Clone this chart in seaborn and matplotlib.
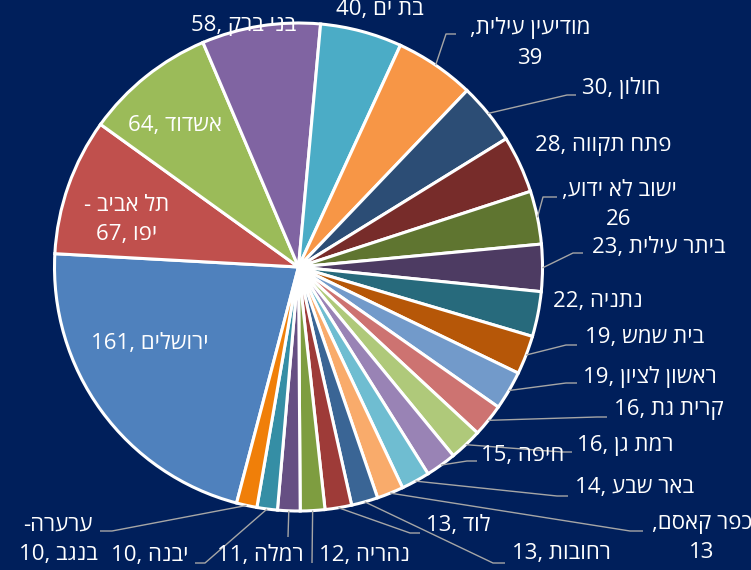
import numpy as np
import pandas as pd
import seaborn as sns
import matplotlib.pyplot as plt

# data (logical Hebrew order, sorted descending as in the source sheet)
cities = ['ירושלים', 'תל אביב - יפו', 'אשדוד', 'בני ברק', 'בת ים', 'מודיעין עילית',
          'חולון', 'פתח תקווה', 'ישוב לא ידוע', 'ביתר עילית', 'נתניה', 'בית שמש',
          'ראשון לציון', 'קרית גת', 'רמת גן', 'חיפה', 'באר שבע', 'כפר קאסם',
          'רחובות', 'לוד', 'נהריה', 'רמלה', 'יבנה', 'ערערה-בנגב']
counts = [161, 67, 64, 58, 40, 39, 30, 28, 26, 23, 22, 19,
          19, 16, 16, 15, 14, 13, 13, 13, 12, 11, 10, 10]
colors = ['#4F81BD', '#C0504D', '#9BBB59', '#8064A2', '#4BACC6', '#F79646',
          '#2C4D75', '#772C2A', '#5F7530', '#4D3B62', '#276A7C', '#B65708',
          '#729ACA', '#CD7371', '#AFC97A', '#9983B5', '#6FBDD1', '#F9AB6B',
          '#3A6595', '#9E3B38', '#7E9D40', '#664F83', '#358EA5', '#F07F09']

df = pd.DataFrame({'city': cities, 'n': counts, 'color': colors})

W, H = 751, 570
BG = '#001F5B'
CX, CY, R = 298.5, 267, 244     # pie centre / radius in pixels (y down)
START = 194.7                   # clockwise from 12 o'clock, where the first slice starts

# label layout: (text x, text y, mode, leader points) in pixels, y measured from top
# mode: 'one' -> "n, name", 'name2' -> "name,\nn", 'split' -> split name at hyphen
layout = [
    (150, 343, 'one', None),
    (127, 220, 'split', None),
    (175, 125, 'one', None),
    (244, 25, 'one', None),
    (380, 10, 'one', None),
    (530, 43, 'name2', [(446, 34), (456, 34)]),
    (621, 88, 'one', [(567, 95), (576, 95)]),
    (603, 145, 'one', None),
    (619, 205, 'name2', [(543, 197), (557, 197)]),
    (659, 247, 'one', [(573, 253), (583, 253)]),
    (598, 302, 'one', None),
    (645, 337, 'one', [(566, 345), (577, 345)]),
    (650, 377, 'one', [(566, 383), (577, 383)]),
    (669, 410, 'one', [(597, 417), (607, 417)]),
    (625, 445, 'one', [(562, 452), (572, 452)]),
    (523, 455, 'one', [(467, 461), (477, 461)]),
    (635, 487, 'one', [(557, 496), (568, 496)]),
    (702, 538, 'name2', [(630, 531), (643, 531)]),
    (561, 553, 'one', [(493, 563), (505, 563)]),
    (458, 525, 'one', [(410, 533), (420, 533)]),
    (364, 555, 'one', [(312, 563)]),
    (260, 555, 'one', [(288, 537)]),
    (150, 555, 'one', [(205, 563), (195, 563)]),
    (58, 540, 'split', [(112, 531), (100, 531)]),
]


def rev(s):
    # matplotlib has no bidi support, so put Hebrew into visual order by hand
    return s[::-1]


def make_label(name, n, mode):
    if mode == 'one':
        return f"{n}, {rev(name)}"
    if mode == 'name2':
        return f",{rev(name)}\n{n}"
    i = name.index('-')
    part1, part2 = name[:i + 1].strip(), name[i + 1:].strip()
    return f"{rev(part1)}\n{n}, {rev(part2)}"


sns.set_theme(style='white')
plt.rcParams['font.family'] = ['Open Sans', 'Liberation Sans', 'DejaVu Sans']

fig = plt.figure(figsize=(W / 100, H / 100), dpi=100, facecolor=BG)
ax = fig.add_axes([0, 0, 1, 1])
ax.set_facecolor(BG)

wedges, _ = ax.pie(df['n'], colors=df['color'], startangle=90 - START, counterclock=False,
                   center=(CX, H - CY), radius=R,
                   wedgeprops=dict(edgecolor='white', linewidth=2.2))
ax.set_xlim(0, W)
ax.set_ylim(0, H)
ax.set_aspect('equal')
ax.axis('off')

for w, (name, n), (tx, ty, mode, pts) in zip(wedges, zip(df['city'], df['n']), layout):
    ax.text(tx, H - ty, make_label(name, n, mode), color='white', fontsize=16,
            ha='center', va='center', multialignment='center', linespacing=1.55, zorder=5)
    if pts:
        mid = np.deg2rad((w.theta1 + w.theta2) / 2)
        ax_ = CX + R * np.cos(mid)
        ay_ = (H - CY) + R * np.sin(mid)
        xs = [ax_] + [p[0] for p in pts]
        ys = [ay_] + [H - p[1] for p in pts]
        ax.plot(xs, ys, color='#A6A6A6', lw=1.0, zorder=4, solid_capstyle='butt')

fig.savefig('out.png', dpi=100, facecolor=BG)
